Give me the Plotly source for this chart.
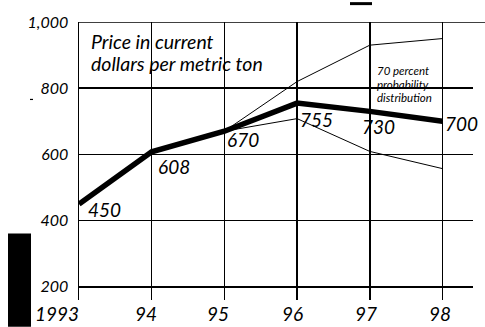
import plotly.graph_objects as go

# ---- data ----
years = [1993, 1994, 1995, 1996, 1997, 1998]
price = [450, 608, 670, 755, 730, 700]
band_years = [1995, 1996, 1997, 1998]
band_upper = [670, 820, 930, 950]
band_lower = [670, 708, 609, 557]
x_tick_text = ["1993", "94", "95", "96", "97", "98"]
y_tick_vals = [200, 400, 600, 800, 1000]
y_tick_text = ["200", "400", "600", "800", "1,000"]

FONT = "Lato"
W, H = 485, 327
L, R, T, B = 79, 12, 20, 27
PW, PH = W - L - R, H - T - B


def px(x):
    return (x - L) / PW


def py(y):
    return (H - B - y) / PH


def ital(s):
    return "<i>" + s + "</i>"


fig = go.Figure()
fig.add_trace(go.Scatter(x=band_years, y=band_upper, mode="lines",
                         line=dict(color="black", width=1), hoverinfo="skip"))
fig.add_trace(go.Scatter(x=band_years, y=band_lower, mode="lines",
                         line=dict(color="black", width=1), hoverinfo="skip"))
fig.add_trace(go.Scatter(x=years, y=price, mode="lines",
                         line=dict(color="black", width=5.5), hoverinfo="skip"))

annotations = []
# value labels
label_shift = [(8, -5), (5, -15), (2, -8), (2, -16), (-9, -15), (2, -2)]
for i, (xv, yv) in enumerate(zip(years, price)):
    dx, dy = label_shift[i]
    annotations.append(dict(x=xv, y=yv, xref="x", yref="y", text=ital(str(yv)),
                            showarrow=False, xanchor="left", yanchor="middle",
                            xshift=dx, yshift=dy, borderpad=0,
                            font=dict(family=FONT, size=19, color="black")))
# x tick labels
x_shifts = [2, -6, -6, -5, -4, -2]
for i, (xv, t) in enumerate(zip(years, x_tick_text)):
    annotations.append(dict(x=xv, y=0, xref="x", yref="paper", text=ital(t),
                            showarrow=False,
                            xanchor="right" if i == 0 else "center",
                            yanchor="top", xshift=x_shifts[i], yshift=0,
                            font=dict(family=FONT, size=19, color="black")))
# title (two lines, tight spacing)
for txt, yc in (("Price in current", 40), ("dollars per metric ton", 62)):
    annotations.append(dict(x=px(89), y=py(yc), xref="paper", yref="paper",
                            text=ital(txt), showarrow=False, xanchor="left",
                            yanchor="middle",
                            font=dict(family=FONT, size=19.5, color="black")))
# band note
for txt, yc in (("70 percent", 69), ("probability", 83), ("distribution", 96)):
    annotations.append(dict(x=px(375), y=py(yc), xref="paper", yref="paper",
                            text=ital(txt), showarrow=False, xanchor="left",
                            yanchor="middle",
                            font=dict(family=FONT, size=11.5, color="black")))

shapes = [
    # white areas that hide gridlines behind texts
    dict(type="rect", xref="paper", yref="paper", x0=px(320), x1=px(441),
         y0=py(105), y1=py(46), fillcolor="white", line=dict(width=0),
         layer="between"),
    dict(type="rect", xref="paper", yref="paper", x0=px(362), x1=px(390),
         y0=py(134), y1=py(112), fillcolor="white", line=dict(width=0),
         layer="between"),
    dict(type="rect", xref="paper", yref="paper", x0=px(300), x1=px(318),
         y0=py(155), y1=py(152), fillcolor="white", line=dict(width=0),
         layer="between"),
    # top border extending right
    dict(type="line", xref="paper", yref="y", x0=0, x1=px(485), y0=1000,
         y1=1000, line=dict(color="black", width=1.5)),
    # scan artifacts
    dict(type="rect", xref="paper", yref="paper", x0=px(8), x1=px(31),
         y0=py(327), y1=py(233), fillcolor="black", line=dict(width=0)),
    dict(type="rect", xref="paper", yref="paper", x0=px(350), x1=px(372),
         y0=py(3), y1=py(0), fillcolor="black", line=dict(width=0)),
    dict(type="line", xref="paper", yref="paper", x0=px(30), x1=px(33),
         y0=py(98), y1=py(98), line=dict(color="black", width=1.2)),
]

fig.update_layout(
    width=W, height=H,
    margin=dict(l=L, r=R, t=T, b=B, pad=0),
    paper_bgcolor="white", plot_bgcolor="white",
    showlegend=False,
    annotations=annotations,
    shapes=shapes,
    xaxis=dict(range=[1993, 1998.42], tickvals=years, showticklabels=False,
               showgrid=True, gridcolor="black", gridwidth=1.5,
               zeroline=False, showline=False, ticks="", fixedrange=True),
    yaxis=dict(range=[160, 1000], tickvals=y_tick_vals,
               ticktext=[ital(t) for t in y_tick_text],
               showgrid=True, gridcolor="black", gridwidth=1.5,
               zeroline=False, showline=True, linecolor="black", linewidth=1.5,
               ticks="", ticklabelstandoff=6,
               tickfont=dict(family=FONT, size=16, color="black"),
               fixedrange=True),
)

fig.write_html(
    "out.html",
    config={"displayModeBar": False, "staticPlot": True},
    post_script="document.body.style.margin='0';"
                "document.body.style.overflow='hidden';",
)
